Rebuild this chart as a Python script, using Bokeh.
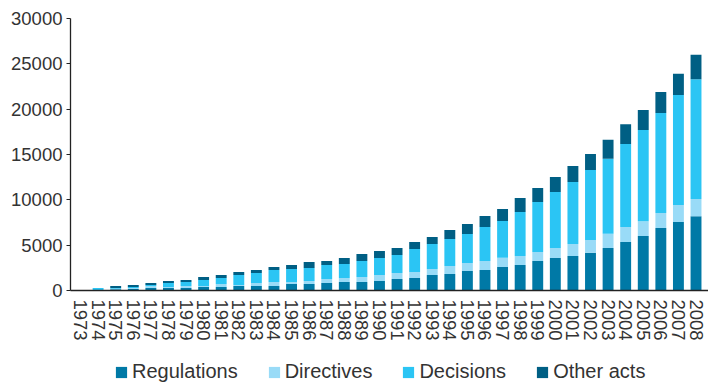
import math

from bokeh.embed import file_html
from bokeh.layouts import column
from bokeh.models import (ColumnDataSource, FixedTicker, Legend, LegendItem,
                          Range1d)
from bokeh.plotting import figure
from bokeh.resources import INLINE

# Number of legal acts in force, by year and type
years = list(range(1973, 2009))
year_labels = [str(y) for y in years]

regulations = [0, 0, 150, 170, 280, 280, 280, 390, 390, 500, 500, 500, 720, 720,
               830, 940, 940, 1050, 1270, 1380, 1710, 1820, 2150, 2260, 2600,
               2800, 3250, 3580, 3800, 4150, 4700, 5350, 6000, 6900, 7550, 8200]
directives = [0, 0, 30, 110, 220, 110, 220, 110, 330, 110, 330, 440, 220, 330,
              440, 440, 550, 660, 660, 660, 660, 880, 880, 990, 1000, 1000,
              1000, 1110, 1330, 1430, 1550, 1650, 1650, 1650, 1880, 1900]
decisions = [0, 280, 100, 110, 110, 440, 440, 660, 660, 1100, 1100, 1320, 1430,
             1430, 1540, 1540, 1760, 1870, 1990, 2540, 2760, 2980, 3200, 3750,
             4070, 4860, 5510, 6170, 6840, 7720, 8270, 9150, 10050, 11030,
             12130, 13200]
other_acts = [0, 0, 220, 220, 220, 220, 220, 330, 330, 330, 330, 330, 440, 660,
              440, 660, 780, 780, 770, 770, 770, 990, 1100, 1220, 1320, 1540,
              1540, 1660, 1760, 1760, 2100, 2200, 2200, 2300, 2340, 2700]

series = ["Regulations", "Directives", "Decisions", "Other acts"]
colors = ["#0079A6", "#99DBF7", "#2BC5F4", "#005F84"]
y_ticks = [0, 5000, 10000, 15000, 20000, 25000, 30000]

source = ColumnDataSource(dict(
    year=years,
    Regulations=regulations,
    Directives=directives,
    Decisions=decisions,
    **{"Other acts": other_acts},
))

font = "Liberation Sans"
text_color = "#333333"

# --- stacked bar chart ---
p = figure(width=708, height=352, output_backend="svg", toolbar_location=None,
           x_range=Range1d(years[0] - 0.57, years[-1] + 0.71),
           y_range=Range1d(0, 30000),
           min_border_left=70, min_border_right=0,
           min_border_top=18, min_border_bottom=62)

p.vbar_stack(series, x="year", width=0.62, color=colors,
             source=source, line_width=0)

p.xgrid.visible = False
p.ygrid.visible = False
p.outline_line_color = None

# x axis: one rotated label per year, no tick marks
xa = p.xaxis[0]
xa.ticker = FixedTicker(ticks=years)
xa.major_label_overrides = {y: lab for y, lab in zip(years, year_labels)}
xa.major_label_orientation = -math.pi / 2
xa.major_tick_out = 0
xa.major_tick_in = 0
xa.minor_tick_out = 0
xa.minor_tick_in = 0
xa.major_label_standoff = 9
xa.axis_line_color = "#222222"
xa.axis_line_width = 1.3

# y axis
ya = p.yaxis[0]
ya.ticker = FixedTicker(ticks=y_ticks)
ya.major_label_overrides = {t: str(t) for t in y_ticks}
ya.major_tick_out = 4
ya.major_tick_in = 0
ya.minor_tick_out = 0
ya.minor_tick_in = 0
ya.major_label_standoff = 4
ya.axis_line_color = "#222222"
ya.major_tick_line_color = "#222222"
ya.axis_line_width = 1.3

for ax in (xa, ya):
    ax.major_label_text_font = font
    ax.major_label_text_font_size = "18.5px"
    ax.major_label_text_color = text_color

# --- legend strip underneath the chart ---
key = figure(width=708, height=32, output_backend="svg", toolbar_location=None,
             x_range=Range1d(0, 1), y_range=Range1d(0, 1),
             min_border=0)
key.axis.visible = False
key.xgrid.visible = False
key.ygrid.visible = False
key.outline_line_color = None

# zero-height bars: they only supply the colour swatches of the key
swatches = [key.vbar(x=[0.5], top=[0], width=0.1, color=c, line_width=0)
            for c in colors]

legend = Legend(
    items=[LegendItem(label=name, renderers=[r]) for name, r in zip(series, swatches)],
    orientation="horizontal",
    location=(44, 1),
    glyph_width=14, glyph_height=14,
    label_standoff=4, spacing=29,
    padding=0, margin=0,
    background_fill_alpha=0, border_line_color=None,
    label_text_font=font, label_text_font_size="20px",
    label_text_color=text_color,
)
key.add_layout(legend, "center")

layout = column(p, key, spacing=0)

open("out.html", "w").write(file_html(layout, INLINE))
